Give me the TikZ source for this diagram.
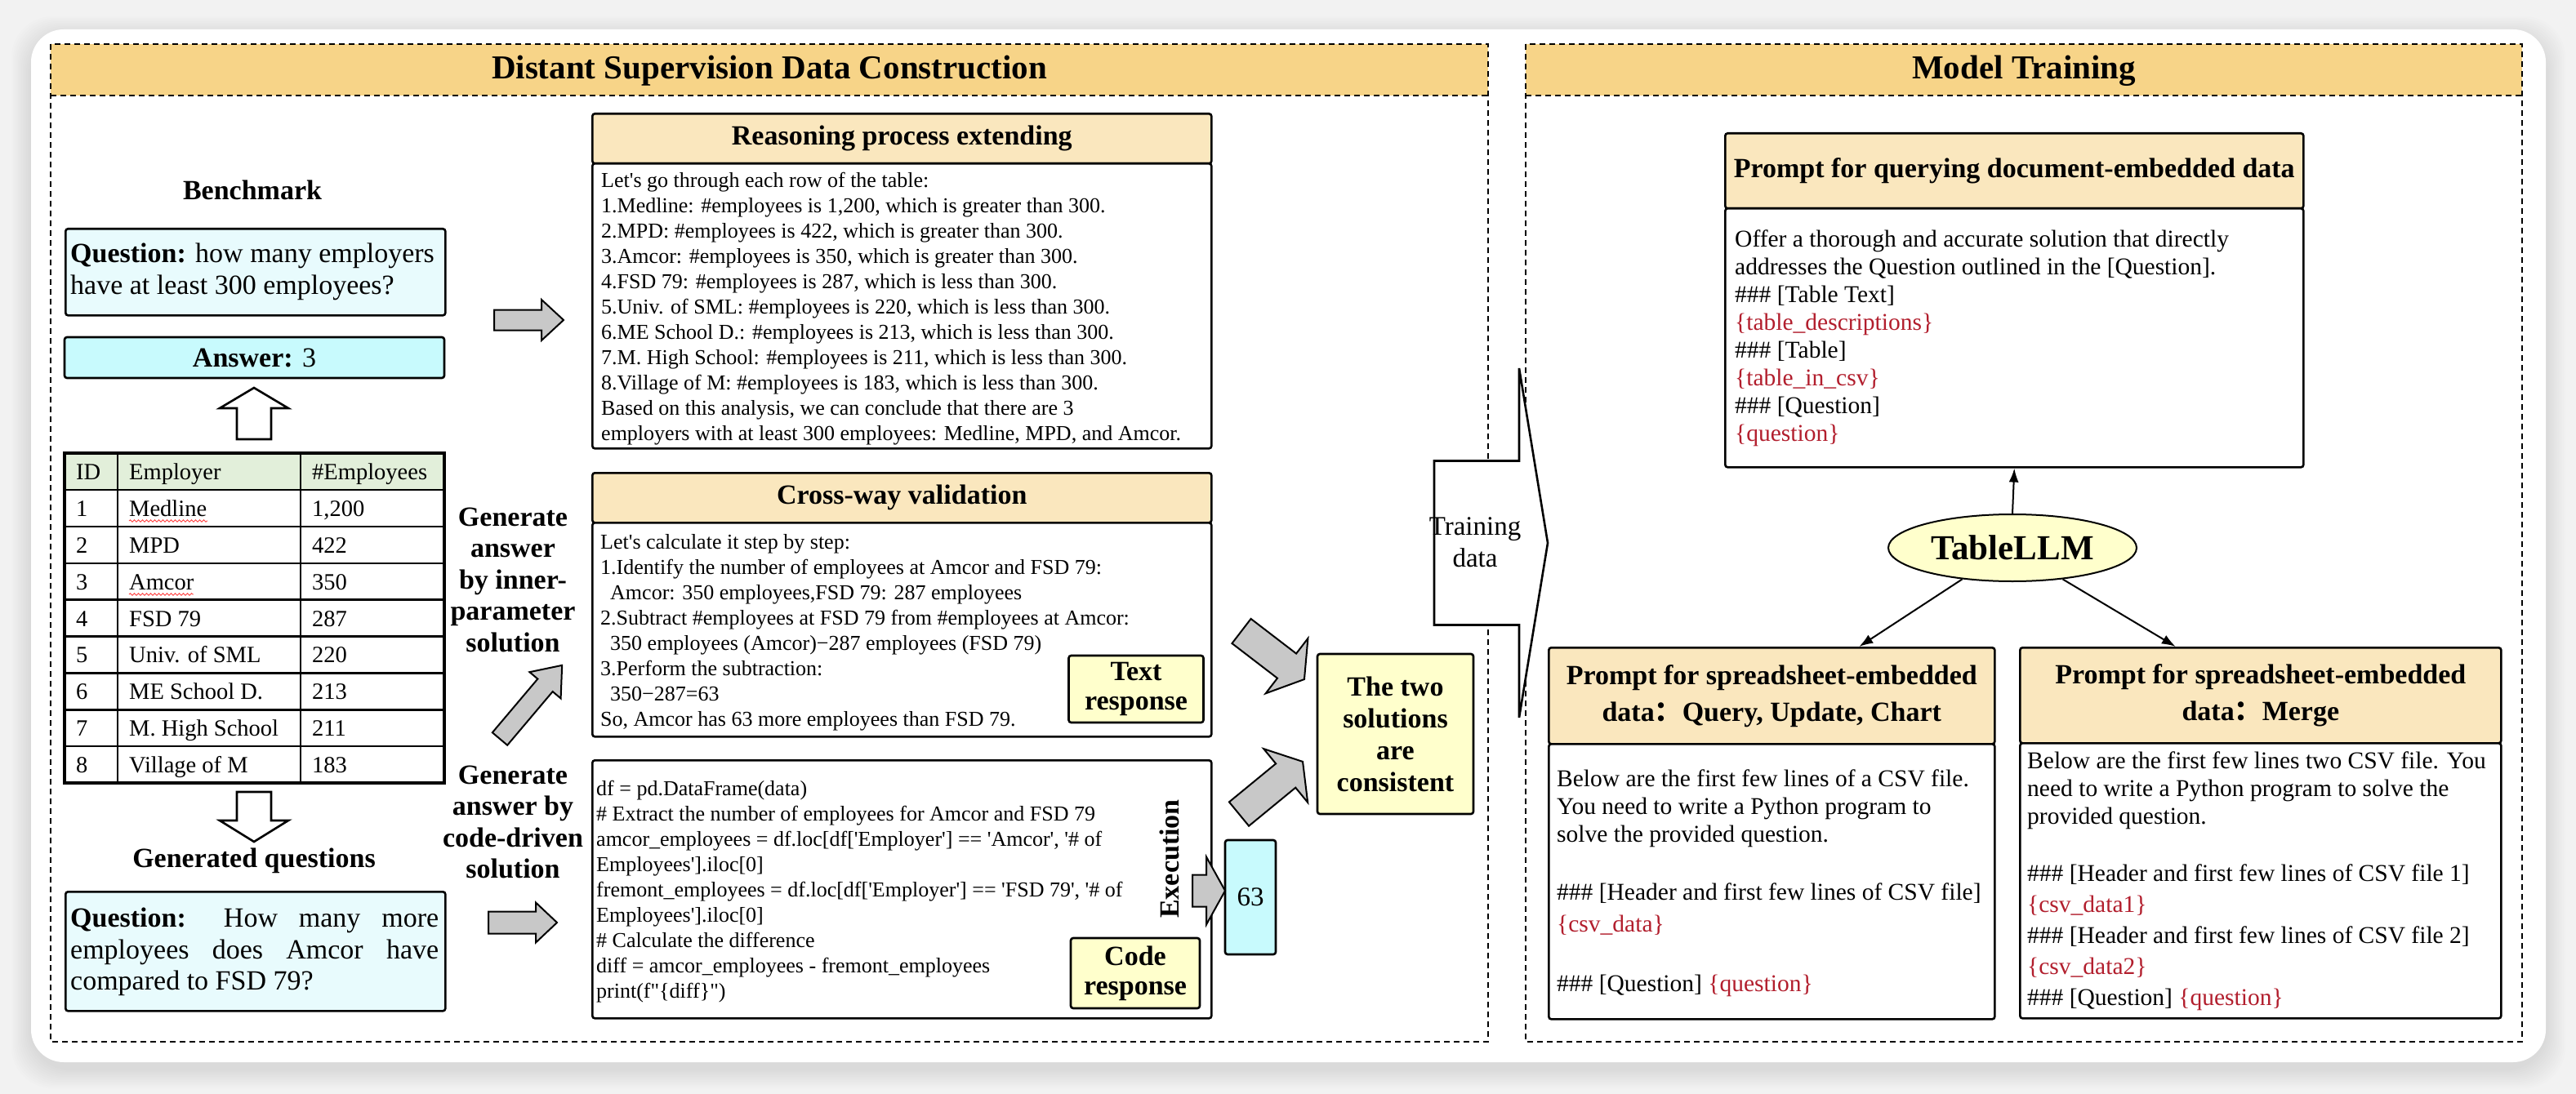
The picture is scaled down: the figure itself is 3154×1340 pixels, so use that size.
\documentclass[tikz,border=0pt]{standalone}
\usepackage{fontspec}
\setmainfont{Liberation Serif}
\newfontfamily\cjkfont{Noto Sans CJK SC}
\usetikzlibrary{arrows.meta,shapes.geometric,decorations.pathmorphing}
\definecolor{panelhead}{RGB}{247,212,136}
\definecolor{boxhead}{RGB}{250,231,190}
\definecolor{qcyan}{RGB}{232,251,253}
\definecolor{acyan}{RGB}{200,250,253}
\definecolor{lyellow}{RGB}{255,255,204}
\definecolor{tgreen}{RGB}{226,239,218}
\definecolor{arrowgray}{RGB}{200,200,200}
\definecolor{phred}{RGB}{178,30,45}
\definecolor{bgc}{RGB}{242,242,242}
\newcommand\sq{\textquotesingle}
\newcommand\dq{\textquotedbl}
\newcommand\blockarrow[7][]{%
  \begin{scope}[shift={#2}, rotate=#3]
    \draw[#1] (0,{-#5/2}) -- ({#4-#7},{-#5/2}) -- ({#4-#7},{-#6/2}) -- (#4,0)
      -- ({#4-#7},{#6/2}) -- ({#4-#7},{#5/2}) -- (0,{#5/2}) -- cycle;
  \end{scope}}
\tikzset{
  bx/.style={draw, line width=2.6pt, rounded corners=3pt},
  headbox/.style={bx, fill=boxhead, anchor=north west, inner sep=0pt, align=center,
    font=\fontsize{34}{45}\selectfont\bfseries},
  bodybox/.style={bx, fill=white, anchor=north west, inner sep=0pt},
  btext/.style={anchor=north west, inner sep=0pt, align=left, font=\fontsize{26}{31}\selectfont},
  ptext/.style={anchor=north west, inner sep=0pt, align=left, font=\fontsize{29.5}{34}\selectfont},
  ttext/.style={anchor=base west, inner sep=0pt, font=\fontsize{28.5}{32}\selectfont},
  lab/.style={inner sep=0pt, align=center, font=\fontsize{34}{38.5}\selectfont\bfseries},
  panel/.style={draw, line width=1.8pt, dash pattern=on 7pt off 5pt},
  titletext/.style={inner sep=0pt, font=\fontsize{41}{45}\selectfont\bfseries},
  ybox/.style={bx, fill=lyellow, inner sep=0pt, align=center},
  grayarrow/.style={draw, line width=2pt, fill=arrowgray, line join=miter},
  whitearrow/.style={draw, line width=2.6pt, fill=white, line join=miter},
  conn/.style={draw, line width=2pt, -{Latex[length=17pt,width=12pt]}},
  squiggle/.style={draw=red!75, line width=0.9pt, decorate,
    decoration={snake, amplitude=1.2pt, segment length=5pt}},
}
\begin{document}
\begin{tikzpicture}[x=1pt,y=-1pt]
\useasboundingbox (0,0) rectangle (3154,1340);
% background and card
\fill[bgc] (0,0) rectangle (3154,1340);
\foreach \s in {2,4,...,24} {
  \fill[black, opacity=0.009, rounded corners=50pt] (38-\s,36-\s+8) rectangle (3117+\s,1301+\s+8);
}
\fill[white, rounded corners=40pt] (38,36) rectangle (3117,1301);

% panels
\fill[panelhead] (62,54) rectangle (1822,117);
\draw[panel] (62,54) rectangle (1822,1276);
\draw[panel] (62,117) -- (1822,117);
\fill[panelhead] (1868,54) rectangle (3088,117);
\draw[panel] (1868,54) rectangle (3088,1276);
\draw[panel] (1868,117) -- (3088,117);
\node[titletext] (ttl1) at (942,87) {Distant Supervision Data Construction};
\node[titletext] (ttl2) at (2478,87) {Model Training};

% ---------- left column
\node[lab] (bench) at (309,233) {Benchmark};
\node[bx, fill=qcyan, minimum width=465, minimum height=106, anchor=north west] (q1) at (79,279) {};
\node[inner sep=0pt, anchor=west, align=left, font=\fontsize{34}{38.5}\selectfont] (q1t) at (86,333)
  {\textbf{Question:} how many employers\\have at least 300 employees?};
\node[bx, fill=acyan, minimum width=465, minimum height=50, inner sep=0pt,
  font=\fontsize{34}{38.5}\selectfont] (ans) at (311.5,438) {\textbf{Answer:} 3};
\blockarrow[whitearrow]{(311,538)}{90}{63}{42}{84}{25}

% table
\fill[tgreen] (79,555) rectangle (544,600);
\foreach \k in {1,...,8} { \draw[line width=2.4pt] (79,{555+44.9*\k}) -- (544,{555+44.9*\k}); }
\draw[line width=2.4pt] (144,555) -- (144,959) (368,555) -- (368,959);
\draw[line width=3.4pt] (79,555) rectangle (544,959);
\node[ttext] (hid) at (93,587.5) {ID};
\node[ttext] (hemp) at (158,587.5) {Employer};
\node[ttext] (hnum) at (382,587.5) {\#Employees};
\foreach \i/\e/\n in {1/Medline/{1,200},2/MPD/422,3/Amcor/350,4/FSD 79/287,5/Univ. of SML/220,6/ME School D./213,7/M. High School/211,8/Village of M/183} {
  \node[ttext] (id\i) at (93,{555+44.9*(\i+0.5)+10}) {\i};
  \node[ttext] (emp\i) at (158,{555+44.9*(\i+0.5)+10}) {\e};
  \node[ttext] (num\i) at (382,{555+44.9*(\i+0.5)+10}) {\n};
}
\draw[squiggle] (158,638) -- (254,638);
\draw[squiggle] (158,728) -- (237,728);

\blockarrow[whitearrow]{(311,970)}{-90}{61}{42}{84}{26}
\node[lab] (genq) at (311,1054) {Generated questions};
\node[bx, fill=qcyan, minimum width=465, minimum height=146, anchor=north west] (q2) at (79,1091) {};
\node[inner sep=0pt, anchor=west, align=left, font=\fontsize{34}{38.5}\selectfont] (q2t) at (86,1166)
  {\makebox[451pt][s]{\textbf{Question:} How many more}\\
   \makebox[451pt][s]{employees does Amcor have}\\
   compared to FSD 79?};

% middle labels and arrows
\node[lab] (gen1) at (628,710) {Generate\\answer\\by inner-\\parameter\\solution};
\node[lab] (gen2) at (628,1007) {Generate\\answer by\\code-driven\\solution};
\blockarrow[grayarrow]{(605,392)}{0}{85}{25}{50}{27}
\blockarrow[grayarrow]{(598,1130)}{0}{84}{27}{49}{26}
\blockarrow[grayarrow]{(612,905)}{49.8}{118}{24}{50}{32}

% reasoning box
\node[headbox, minimum width=758, minimum height=61] (rh) at (724,138) {Reasoning process extending};
\node[bodybox, minimum width=758, minimum height=349] (rb) at (724,199) {};
\node[btext] (rt) at (736,211) {Let\sq s go through each row of the table:\\
1.Medline: \#employees is 1,200, which is greater than 300.\\
2.MPD: \#employees is 422, which is greater than 300.\\
3.Amcor: \#employees is 350, which is greater than 300.\\
4.FSD 79: \#employees is 287, which is less than 300.\\
5.Univ. of SML: \#employees is 220, which is less than 300.\\
6.ME School D.: \#employees is 213, which is less than 300.\\
7.M. High School: \#employees is 211, which is less than 300.\\
8.Village of M: \#employees is 183, which is less than 300.\\
Based on this analysis, we can conclude that there are 3\\
employers with at least 300 employees: Medline, MPD, and Amcor.};

% cross-way box
\node[headbox, minimum width=758, minimum height=61] (ch) at (724,578) {Cross-way validation};
\node[bodybox, minimum width=758, minimum height=262] (cb) at (724,639) {};
\node[btext] (ct) at (735,654) {Let\sq s calculate it step by step:\\
1.Identify the number of employees at Amcor and FSD 79:\\
\hspace*{12pt}Amcor: 350 employees,FSD 79: 287 employees\\
2.Subtract \#employees at FSD 79 from \#employees at Amcor:\\
\hspace*{12pt}350 employees (Amcor)−287 employees (FSD 79)\\
3.Perform the subtraction:\\
\hspace*{12pt}350−287=63\\
So, Amcor has 63 more employees than FSD 79.};
\node[ybox, minimum width=165, minimum height=82, font=\fontsize{34}{36}\selectfont\bfseries] (tresp) at (1391,844) {Text\\response};

% code box
\node[bodybox, minimum width=758, minimum height=316] (kb) at (724,930) {};
\node[btext] (kt) at (730,956) {df = pd.DataFrame(data)\\
\# Extract the number of employees for Amcor and FSD 79\\
amcor\_employees = df.loc[df[\sq Employer\sq] == \sq Amcor\sq, \sq\# of\\
Employees\sq].iloc[0]\\
fremont\_employees = df.loc[df[\sq Employer\sq] == \sq FSD 79\sq, \sq\# of\\
Employees\sq].iloc[0]\\
\# Calculate the difference\\
diff = amcor\_employees - fremont\_employees\\
print(f\dq\{diff\}\dq)};
\node[ybox, minimum width=158, minimum height=86, font=\fontsize{34}{36}\selectfont\bfseries] (cresp) at (1390,1192) {Code\\response};
\node[rotate=90, inner sep=0pt, font=\fontsize{34}{36}\selectfont\bfseries] (exec) at (1432,1052) {Execution};
\node[bx, fill=acyan, minimum width=62, minimum height=140, inner sep=0pt, font=\fontsize{33}{36}\selectfont] (sixty) at (1531,1099) {63};
\blockarrow[grayarrow]{(1460,1091)}{0}{40}{39}{83}{23}

% consistency
\node[ybox, minimum width=191, minimum height=196, font=\fontsize{34}{39}\selectfont\bfseries] (cons) at (1708.5,899) {The two\\solutions\\are\\consistent};
\blockarrow[grayarrow]{(1520,773)}{-37.5}{97}{38}{85}{27}
\blockarrow[grayarrow]{(1517,997)}{39.4}{101}{38}{85}{27}

% training data arrow
\blockarrow[whitearrow]{(1756,665)}{0}{139}{201}{428}{35}
\node[inner sep=0pt, align=center, font=\fontsize{33}{39}\selectfont] (train) at (1806,664) {Training\\data};

% ---------- right column
\node[headbox, minimum width=708, minimum height=92] (doch) at (2111,162) {Prompt for querying document-embedded data};
\node[bodybox, minimum width=708, minimum height=317] (doc) at (2111,254) {};
\node[ptext] (doct) at (2124,282) {Offer a thorough and accurate solution that directly\\
addresses the Question outlined in the [Question].\\
\#\#\# [Table Text]\\
{\color{phred}\{table\_descriptions\}}\\
\#\#\# [Table]\\
{\color{phred}\{table\_in\_csv\}}\\
\#\#\# [Question]\\
{\color{phred}\{question\}}};

\node[ellipse, draw, line width=2pt, fill=lyellow, minimum width=304, minimum height=82, inner sep=0pt,
  font=\fontsize{43}{45}\selectfont\bfseries] (llm) at (2464,671) {TableLLM};

\node[headbox, minimum width=546, minimum height=118] (sh1h) at (1895,792) {Prompt for spreadsheet-embedded\\data{\cjkfont ：}Query, Update, Chart};
\node[bodybox, minimum width=546, minimum height=337] (sh1) at (1895,910) {};
\node[ptext] (sh1t) at (1906,943) {Below are the first few lines of a CSV file.\\
You need to write a Python program to\\
solve the provided question.\\[37pt]
\#\#\# [Header and first few lines of CSV file]\\[5pt]
{\color{phred}\{csv\_data\}}\\[39pt]
\#\#\# [Question] {\color{phred}\{question\}}};

\node[headbox, minimum width=589, minimum height=117] (sh2h) at (2472,792) {Prompt for spreadsheet-embedded\\data{\cjkfont ：}Merge};
\node[bodybox, minimum width=589, minimum height=337] (sh2) at (2472,909) {};
\node[ptext] (sh2t) at (2482,921) {Below are the first few lines two CSV file. You\\
need to write a Python program to solve the\\
provided question.\\[36pt]
\#\#\# [Header and first few lines of CSV file 1]\\[4pt]
{\color{phred}\{csv\_data1\}}\\[4pt]
\#\#\# [Header and first few lines of CSV file 2]\\[4pt]
{\color{phred}\{csv\_data2\}}\\[4pt]
\#\#\# [Question] {\color{phred}\{question\}}};

\draw[conn] (llm.north) -- (doc.south);
\draw[conn] (llm.-148) -- ([xshift=107pt]sh1h.north);
\draw[conn] (llm.-32) -- ([xshift=-104pt]sh2h.north);
\end{tikzpicture}
\end{document}
